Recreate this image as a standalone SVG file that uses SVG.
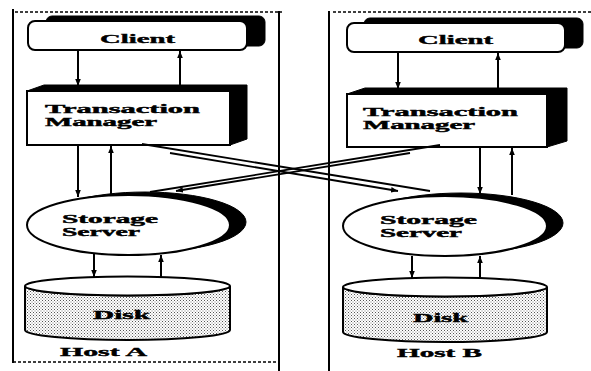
<svg xmlns="http://www.w3.org/2000/svg" width="591" height="371" viewBox="0 0 591 371">
  <style>
    .frame { fill: none; stroke: #000; stroke-width: 2; }
    .dash { fill: none; stroke: #000; stroke-width: 1.6; stroke-dasharray: 3 2; }
    .shadow { fill: #000; stroke: #000; stroke-width: 1; }
    .face { fill: #fff; stroke: #000; stroke-width: 2; }
    .lbl { font-family: "Liberation Serif", "DejaVu Serif", serif; font-weight: bold; font-size: 13px; fill: #000; stroke: #000; stroke-width: 0.4; }
    .lbl2 { font-size: 11.5px; }
    .wire { fill: none; stroke: #000; stroke-width: 2; }
    .xwire { fill: none; stroke: #000; stroke-width: 1.8; }
  </style>
  <defs>
    <marker id="ah" viewBox="0 0 10 10" refX="10" refY="5" markerWidth="7" markerHeight="7" markerUnits="userSpaceOnUse" orient="auto">
      <path d="M0,1 L10,5 L0,9 z" fill="#000"/>
    </marker>
    <pattern id="stipple" width="3" height="3" patternUnits="userSpaceOnUse">
      <rect width="3" height="3" fill="#fff"/>
      <rect x="0" y="0" width="1" height="1" fill="#555"/>
      <rect x="1.5" y="1.5" width="1" height="1" fill="#777"/>
    </pattern>
  </defs>
  <rect width="591" height="371" fill="#fff"/>

  <!-- host frames -->
  <g id="host-a-frame">
    <line class="frame" x1="13" y1="9" x2="13" y2="363"/>
    <line class="frame" x1="279" y1="11" x2="279" y2="371"/>
    <line class="dash" x1="15" y1="12" x2="282" y2="12"/>
    <line class="dash" x1="13" y1="362" x2="279" y2="362"/>
  </g>
  <g id="host-b-frame">
    <line class="frame" x1="329" y1="11" x2="329" y2="371"/>
    <line class="dash" x1="333" y1="12" x2="591" y2="12"/>
  </g>

  <!-- Host A -->
  <g id="client-a">
    <rect class="shadow" x="46" y="16" width="219" height="30" rx="6"/>
    <rect class="face" x="28" y="21" width="219" height="29" rx="7"/>
    <text class="lbl" x="100" y="43" font-size="14" textLength="75" lengthAdjust="spacingAndGlyphs">Client</text>
  </g>
  <g id="tm-a">
    <path class="shadow" d="M27,91 L44,85 L247,85 L247,139 L230,145 Z"/>
    <rect class="face" x="27" y="91" width="203" height="54"/>
    <text class="lbl lbl2" x="45" y="113" textLength="155" lengthAdjust="spacingAndGlyphs">Transaction</text>
    <text class="lbl lbl2" x="45" y="126" textLength="112" lengthAdjust="spacingAndGlyphs">Manager</text>
  </g>
  <g id="storage-a">
    <ellipse class="shadow" cx="145" cy="222" rx="101" ry="30"/>
    <ellipse class="face" cx="128.5" cy="225" rx="101.5" ry="30"/>
    <text class="lbl lbl2" x="62" y="223" textLength="96" lengthAdjust="spacingAndGlyphs">Storage</text>
    <text class="lbl lbl2" x="62" y="236" textLength="78" lengthAdjust="spacingAndGlyphs">Server</text>
  </g>
  <g id="disk-a">
    <path d="M25,286 V330 A102.5,10 0 0 0 230,330 V286 A102.5,9.5 0 0 1 25,286 Z" fill="url(#stipple)" stroke="#000" stroke-width="2"/>
    <ellipse class="face" cx="127.5" cy="286" rx="102.5" ry="9.5"/>
    <text class="lbl" x="93" y="319" textLength="57" lengthAdjust="spacingAndGlyphs">Disk</text>
  </g>
  <g id="host-a-label">
    <text class="lbl" x="60" y="356" textLength="87" lengthAdjust="spacingAndGlyphs">Host A</text>
  </g>

  <!-- Host B -->
  <g id="client-b">
    <rect class="shadow" x="364" y="18" width="219" height="30" rx="6"/>
    <rect class="face" x="347" y="23" width="218" height="29" rx="7"/>
    <text class="lbl" x="418" y="44" font-size="14" textLength="75" lengthAdjust="spacingAndGlyphs">Client</text>
  </g>
  <g id="tm-b">
    <path class="shadow" d="M347,94 L365,88 L567,88 L567,141 L547,147 Z"/>
    <rect class="face" x="347" y="94" width="200" height="53"/>
    <text class="lbl lbl2" x="363" y="116" textLength="155" lengthAdjust="spacingAndGlyphs">Transaction</text>
    <text class="lbl lbl2" x="363" y="129" textLength="112" lengthAdjust="spacingAndGlyphs">Manager</text>
  </g>
  <g id="storage-b">
    <ellipse class="shadow" cx="461" cy="223" rx="102" ry="30"/>
    <ellipse class="face" cx="445" cy="226" rx="102" ry="30"/>
    <text class="lbl lbl2" x="380" y="224" textLength="97" lengthAdjust="spacingAndGlyphs">Storage</text>
    <text class="lbl lbl2" x="380" y="237" textLength="82" lengthAdjust="spacingAndGlyphs">Server</text>
  </g>
  <g id="disk-b">
    <path d="M343,287 V332 A102,10 0 0 0 547,332 V287 A102,9.5 0 0 1 343,287 Z" fill="url(#stipple)" stroke="#000" stroke-width="2"/>
    <ellipse class="face" cx="445" cy="287" rx="102" ry="9.5"/>
    <text class="lbl" x="413" y="322" textLength="55" lengthAdjust="spacingAndGlyphs">Disk</text>
  </g>
  <g id="host-b-label">
    <text class="lbl" x="397" y="357" textLength="85" lengthAdjust="spacingAndGlyphs">Host B</text>
  </g>

  <!-- connectors -->
  <g id="connectors">
    <!-- client / transaction manager -->
    <line class="wire" x1="78" y1="50" x2="78" y2="86" marker-end="url(#ah)"/>
    <line class="wire" x1="180" y1="85" x2="180" y2="51" marker-end="url(#ah)"/>
    <line class="wire" x1="398" y1="52" x2="398" y2="89" marker-end="url(#ah)"/>
    <line class="wire" x1="498" y1="88" x2="498" y2="53" marker-end="url(#ah)"/>
    <!-- transaction manager / storage server -->
    <line class="wire" x1="78" y1="145" x2="78" y2="197" marker-end="url(#ah)"/>
    <line class="wire" x1="111" y1="196" x2="111" y2="146" marker-end="url(#ah)"/>
    <line class="wire" x1="480" y1="147" x2="480" y2="194" marker-end="url(#ah)"/>
    <line class="wire" x1="512" y1="195" x2="512" y2="148" marker-end="url(#ah)"/>
    <!-- storage server / disk -->
    <line class="wire" x1="94" y1="254" x2="94" y2="277" marker-end="url(#ah)"/>
    <line class="wire" x1="161" y1="277" x2="161" y2="255" marker-end="url(#ah)"/>
    <line class="wire" x1="412" y1="256" x2="412" y2="278" marker-end="url(#ah)"/>
    <line class="wire" x1="480" y1="278" x2="480" y2="256" marker-end="url(#ah)"/>
    <!-- cross-host links -->
    <line class="xwire" x1="142" y1="144" x2="430" y2="191"/>
    <line class="xwire" x1="170" y1="153" x2="398" y2="191" marker-end="url(#ah)"/>
    <line class="xwire" x1="440" y1="145" x2="150" y2="192"/>
    <line class="xwire" x1="410" y1="153" x2="176" y2="191" marker-end="url(#ah)"/>
  </g>
</svg>
